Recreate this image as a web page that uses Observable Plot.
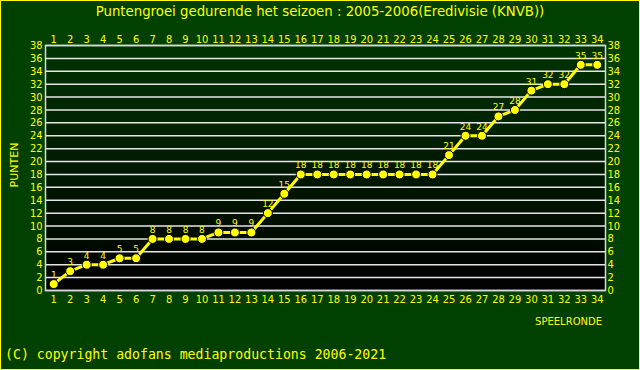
<!DOCTYPE html>
<html><head><meta charset="utf-8">
<script src="https://cdn.jsdelivr.net/npm/d3@7"></script>
<script src="https://cdn.jsdelivr.net/npm/@observablehq/plot@0.6"></script>
<style>
html,body{margin:0;padding:0;background:#004000}
#wrap{position:relative;width:640px;height:370px;background:#004000;overflow:hidden}
#wrap svg{position:absolute;left:0;top:0}
.t{position:absolute;color:#ffff00;white-space:nowrap}
#title{left:0;width:640px;text-align:center;top:4px;font:13.3px "DejaVu Sans"}
#ylab{left:14px;top:165px;transform:translate(-50%,-50%) rotate(-90deg);font:11px "DejaVu Sans"}
#xlab{right:38px;top:316px;font:10px "DejaVu Sans"}
#foot{left:5px;top:347px;font:13.2px "DejaVu Sans Mono"}
#border{position:absolute;left:0;top:0;width:640px;height:370px;box-sizing:border-box;border:1px solid #ffff00;pointer-events:none}
</style>
</head><body>
<div id="wrap">
<div id="chart"></div>
<div class="t" id="title">Puntengroei gedurende het seizoen : 2005-2006(Eredivisie (KNVB))</div>
<div class="t" id="ylab">PUNTEN</div>
<div class="t" id="xlab">SPEELRONDE</div>
<div class="t" id="foot">(C) copyright adofans mediaproductions 2006-2021</div>
<div id="border"></div>
</div>
<script>
const rounds = [1,2,3,4,5,6,7,8,9,10,11,12,13,14,15,16,17,18,19,20,21,22,23,24,25,26,27,28,29,30,31,32,33,34];
const points = [1,3,4,4,5,5,8,8,8,8,9,9,9,12,15,18,18,18,18,18,18,18,18,18,21,24,24,27,28,31,32,32,35,35];
const yTicks = [0,2,4,6,8,10,12,14,16,18,20,22,24,26,28,30,32,34,36,38];
const data = rounds.map((r, i) => ({r, p: points[i]}));

const axisStyle = {tickSize: 0, label: null, tickFormat: "d", fill: "#ffff00"};
const plot = Plot.plot({
  width: 640, height: 370,
  marginLeft: 45, marginRight: 35, marginTop: 45, marginBottom: 80,
  style: {background: "transparent", color: "#ffff00", fontFamily: "DejaVu Sans Condensed", fontSize: "11px"},
  x: {domain: [0.5, 34.5]},
  y: {domain: [0, 38]},
  marks: [
    Plot.frame({fill: "url(#plotbg)"}),
    Plot.ruleY(yTicks, {stroke: "#e6e6e6", strokeWidth: 1.5}),
    Plot.frame({stroke: "#d8d8d8", strokeWidth: 1.5}),
    Plot.axisX(rounds, {...axisStyle, anchor: "top", tickPadding: 3}),
    Plot.axisX(rounds, {...axisStyle, anchor: "bottom", tickPadding: 5}),
    Plot.axisY(yTicks, {...axisStyle, anchor: "left", tickPadding: 3}),
    Plot.axisY(yTicks, {...axisStyle, anchor: "right", tickPadding: 2}),
    Plot.line(data, {x: "r", y: "p", stroke: "#ffff00", strokeWidth: 3}),
    Plot.dot(data, {x: "r", y: "p", r: 4.5, fill: "#ffff00", stroke: "#000000", strokeWidth: 1}),
    Plot.text(data, {x: "r", y: "p", text: "p", dy: -9, fontSize: 9, fill: "#ffff00", fontFamily: "DejaVu Sans"})
  ]
});
const svg = d3.select(plot);
const grad = svg.insert("defs", ":first-child").append("linearGradient")
  .attr("id", "plotbg").attr("x1", 0).attr("y1", 0).attr("x2", 0).attr("y2", 1);
grad.append("stop").attr("offset", "0%").attr("stop-color", "#003300");
grad.append("stop").attr("offset", "100%").attr("stop-color", "#000000");
document.getElementById("chart").appendChild(plot);
</script>
</body></html>
